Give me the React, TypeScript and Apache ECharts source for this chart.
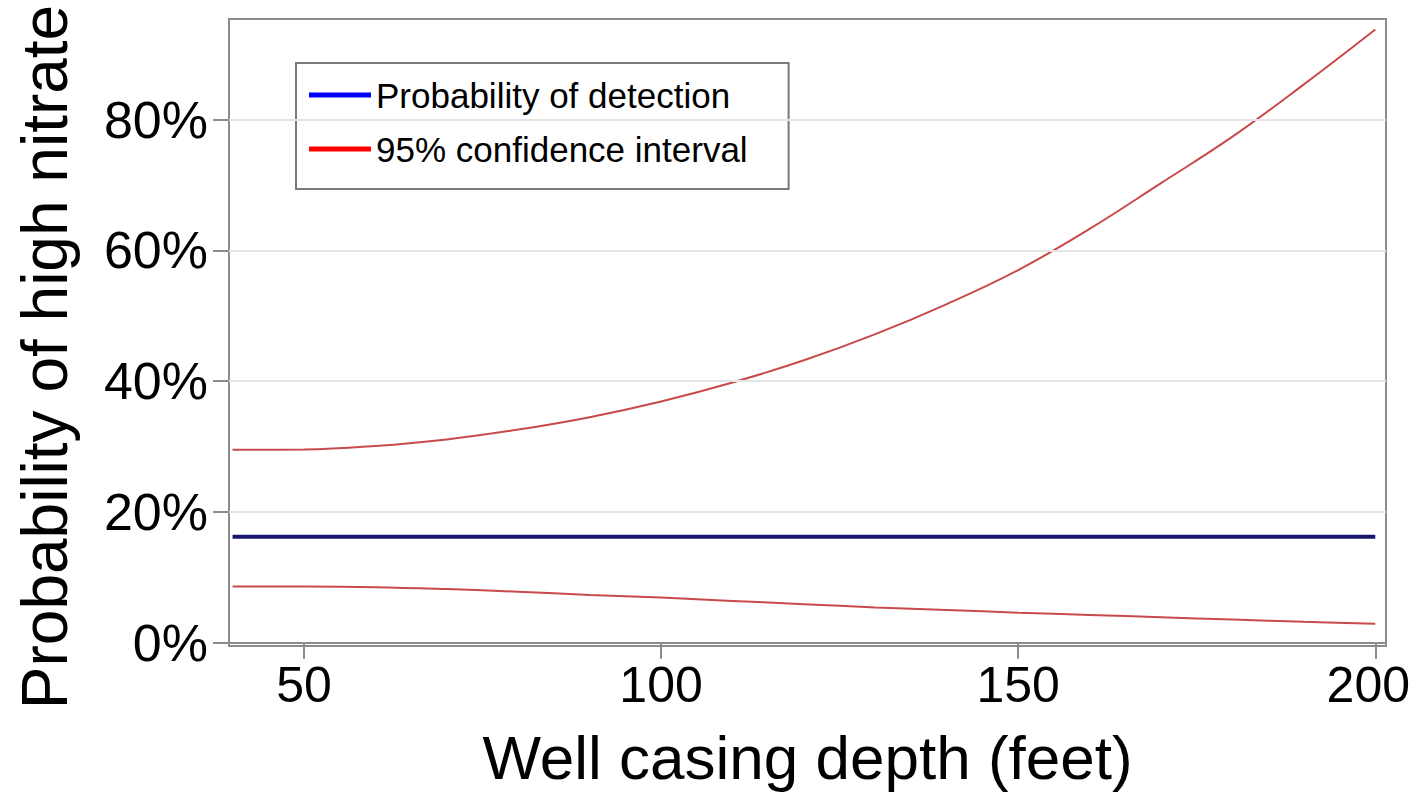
import React, { useEffect, useRef } from "react";
import * as echarts from "echarts";

// Well casing depth (feet) at which the curves are evaluated
const depthFeet = [40, 50, 60, 70, 80, 90, 100, 110, 120, 130, 140, 150, 160, 170, 180, 190, 200];

// Probability of detection (%), flat across depth
const detectionProb = [16.2, 16.2, 16.2, 16.2, 16.2, 16.2, 16.2, 16.2, 16.2, 16.2, 16.2, 16.2, 16.2, 16.2, 16.2, 16.2, 16.2];

// 95% confidence interval bounds (%)
const upperCI = [29.5, 29.55, 30.1, 31.1, 32.6, 34.5, 36.9, 39.8, 43.2, 47.2, 51.8, 57.0, 63.3, 70.3, 77.4, 85.4, 93.8];
const lowerCI = [8.6, 8.6, 8.5, 8.2, 7.8, 7.3, 6.9, 6.4, 5.9, 5.4, 5.0, 4.6, 4.25, 3.9, 3.55, 3.2, 2.9];

// Axis tick values
const xTicks = [50, 100, 150, 200];
const yTicks = [0, 20, 40, 60, 80];

const FONT = "'Liberation Sans', Arial, sans-serif";
const FRAME = "#8c8c8c";

export default function App() {
  const ref = useRef<HTMLDivElement>(null);

  useEffect(() => {
    if (!ref.current) return;
    const chart = echarts.init(ref.current, null, { renderer: "svg" });

    const pairs = (ys: number[]) => depthFeet.map((d, i) => [d, ys[i]]);
    const lastX = xTicks[xTicks.length - 1];

    chart.setOption({
      animation: false,
      backgroundColor: "#ffffff",
      grid: {
        left: 229,
        right: 28,
        top: 19,
        bottom: 150,
        outerBoundsMode: "none",
        containLabel: false,
        show: true,
        borderColor: FRAME,
        borderWidth: 2,
        backgroundColor: "transparent",
      },
      legend: {
        left: 296,
        top: 63,
        orient: "vertical",
        icon: "rect",
        itemWidth: 62,
        itemHeight: 5,
        itemGap: 14,
        padding: [12, 41, 20, 13],
        borderColor: "#7a7a7a",
        borderWidth: 2,
        backgroundColor: "#ffffff",
        textStyle: { fontFamily: FONT, fontSize: 35, color: "#000", lineHeight: 40 },
        data: [
          { name: "Probability of detection", itemStyle: { color: "#0000ff" } },
          { name: "95% confidence interval", itemStyle: { color: "#ff0000" } },
        ],
      },
      xAxis: {
        type: "value",
        min: 39.5,
        max: 201.5,
        axisLine: { show: true, lineStyle: { color: FRAME, width: 2 } },
        axisTick: {
          show: true,
          customValues: xTicks,
          length: 16,
          lineStyle: { color: FRAME, width: 2 },
        },
        axisLabel: {
          customValues: xTicks,
          fontFamily: FONT,
          fontSize: 50,
          color: "#000",
          margin: 14,
          formatter: (v: number) => (v === lastX ? `{last|${v}}` : `${v}`),
          rich: {
            last: { fontFamily: FONT, fontSize: 50, color: "#000", padding: [0, 14, 0, 0] },
          },
        },
        splitLine: { show: false },
        name: "Well casing depth (feet)",
        nameLocation: "middle",
        nameGap: 80,
        nameTextStyle: { fontFamily: FONT, fontSize: 62, color: "#000" },
      },
      yAxis: {
        type: "value",
        min: -0.5,
        max: 95.4,
        axisLine: { show: true, lineStyle: { color: FRAME, width: 2 } },
        axisTick: {
          show: true,
          customValues: yTicks,
          length: 16,
          lineStyle: { color: FRAME, width: 2 },
        },
        axisLabel: {
          customValues: yTicks,
          formatter: "{value}%",
          fontFamily: FONT,
          fontSize: 52,
          color: "#000",
          margin: 21,
        },
        splitLine: { show: false },
      },
      graphic: [
        {
          type: "text",
          x: 45,
          y: 357,
          rotation: Math.PI / 2,
          style: {
            text: "Probability of high nitrate",
            font: `64px ${FONT}`,
            fill: "#000",
            textAlign: "center",
            textVerticalAlign: "middle",
          },
        },
      ],
      series: [
        {
          name: "gridlines",
          type: "line",
          data: [],
          silent: true,
          markLine: {
            silent: true,
            symbol: "none",
            label: { show: false },
            lineStyle: { color: "#e4e4e4", width: 2, type: "solid" },
            data: yTicks.filter((v) => v > 0).map((v) => ({ yAxis: v })),
          },
        },
        {
          name: "Probability of detection",
          type: "line",
          data: pairs(detectionProb),
          showSymbol: false,
          lineStyle: { color: "#16166e", width: 4 },
          itemStyle: { color: "#0000ff" },
          z: 3,
        },
        {
          name: "95% confidence interval",
          type: "line",
          data: pairs(upperCI),
          smooth: 0.4,
          showSymbol: false,
          lineStyle: { color: "#c94a4a", width: 2 },
          itemStyle: { color: "#ff0000" },
          z: 3,
        },
        {
          name: "95% confidence interval",
          type: "line",
          data: pairs(lowerCI),
          smooth: 0.4,
          showSymbol: false,
          lineStyle: { color: "#c94a4a", width: 2 },
          itemStyle: { color: "#ff0000" },
          z: 3,
        },
      ],
    });

    return () => chart.dispose();
  }, []);

  return (
    <div
      ref={ref}
      style={{ position: "absolute", left: 0, top: 0, width: 1414, height: 796 }}
    />
  );
}
